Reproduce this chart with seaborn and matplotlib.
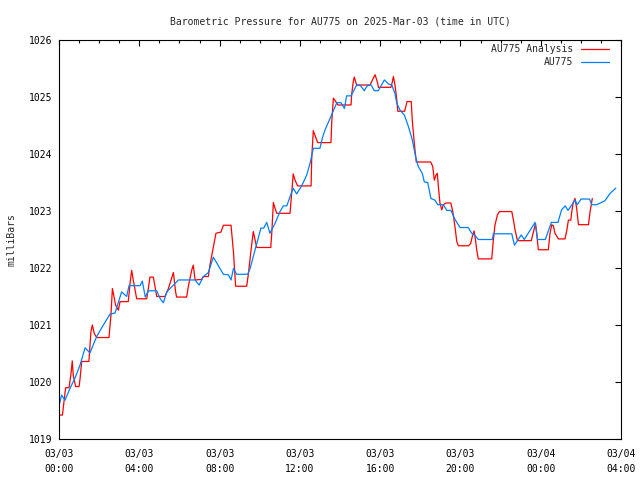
import pandas as pd
import matplotlib
matplotlib.use("Agg")
import matplotlib.pyplot as plt
import matplotlib.dates as mdates
import seaborn as sns

# hours after 2025-03-03 00:00 UTC and pressure in milliBars
obs_hours = [0.00, 0.13, 0.30, 0.55, 0.80, 1.05, 1.30, 1.54, 1.88, 2.21,
             2.54, 2.79, 3.12, 3.37, 3.49, 4.04, 4.15, 4.30, 4.45, 4.87,
             5.03, 5.20, 5.37, 5.70, 5.95, 6.78, 6.98, 7.19, 7.44, 7.69,
             7.94, 8.19, 8.44, 8.57, 8.69, 8.85, 9.40, 9.52, 9.77, 10.06,
             10.20, 10.35, 10.51, 10.76, 11.01, 11.18, 11.35, 11.51, 11.67, 11.84,
             12.09, 12.34, 12.51, 12.67, 13.00, 13.12, 13.25, 13.50, 13.84, 14.05,
             14.22, 14.33, 14.55, 14.83, 15.00, 15.21, 15.38, 15.55, 15.71, 15.91,
             16.21, 16.41, 16.58, 16.74, 16.83, 16.99, 17.21, 17.41, 17.60, 17.77,
             17.90, 18.10, 18.20, 18.37, 18.53, 18.73, 18.87, 19.15, 19.32, 19.53,
             19.70, 19.98, 20.39, 20.56, 20.73, 20.89, 21.59, 21.64, 22.56, 22.69,
             23.03, 23.18, 23.72, 23.84, 24.23, 24.53, 24.86, 25.04, 25.22, 25.36,
             25.71, 25.82, 26.01, 26.43, 26.55, 26.79, 27.20, 27.46, 27.74]
obs_mbar = [1019.58, 1019.77, 1019.68, 1019.89, 1020.07, 1020.30, 1020.60, 1020.51, 1020.80, 1021.00,
            1021.19, 1021.21, 1021.58, 1021.50, 1021.69, 1021.69, 1021.77, 1021.49, 1021.60, 1021.60,
            1021.47, 1021.39, 1021.58, 1021.70, 1021.79, 1021.79, 1021.70, 1021.85, 1021.92, 1022.19,
            1022.04, 1021.89, 1021.88, 1021.79, 1021.99, 1021.89, 1021.89, 1021.99, 1022.32, 1022.70,
            1022.70, 1022.80, 1022.61, 1022.78, 1022.99, 1023.09, 1023.09, 1023.25, 1023.40, 1023.30,
            1023.44, 1023.63, 1023.84, 1024.10, 1024.10, 1024.28, 1024.42, 1024.62, 1024.90, 1024.90,
            1024.80, 1025.02, 1025.02, 1025.21, 1025.21, 1025.11, 1025.21, 1025.21, 1025.11, 1025.11,
            1025.30, 1025.23, 1025.21, 1025.06, 1024.89, 1024.77, 1024.68, 1024.48, 1024.25, 1023.95,
            1023.78, 1023.66, 1023.51, 1023.50, 1023.22, 1023.19, 1023.11, 1023.11, 1023.01, 1023.01,
            1022.87, 1022.71, 1022.71, 1022.61, 1022.57, 1022.50, 1022.50, 1022.60, 1022.60, 1022.40,
            1022.58, 1022.50, 1022.80, 1022.50, 1022.50, 1022.80, 1022.80, 1023.02, 1023.09, 1023.01,
            1023.19, 1023.11, 1023.21, 1023.21, 1023.11, 1023.11, 1023.18, 1023.31, 1023.40]

ana_hours = [0.00, 0.17, 0.22, 0.33, 0.50, 0.60, 0.66, 0.71, 0.83, 1.00,
             1.05, 1.13, 1.49, 1.59, 1.66, 1.76, 1.88, 2.49, 2.59, 2.66,
             2.72, 2.82, 2.96, 3.04, 3.45, 3.54, 3.62, 3.70, 3.87, 4.37,
             4.45, 4.53, 4.70, 4.87, 5.28, 5.45, 5.70, 5.81, 5.86, 6.36,
             6.44, 6.61, 6.69, 6.78, 7.11, 7.19, 7.44, 7.52, 7.69, 7.82,
             8.07, 8.19, 8.57, 8.69, 8.80, 9.35, 9.43, 9.57, 9.68, 9.77,
             9.85, 10.55, 10.60, 10.68, 10.76, 10.85, 11.51, 11.59, 11.67, 11.76,
             11.89, 12.56, 12.59, 12.67, 12.76, 12.89, 13.55, 13.59, 13.67, 13.79,
             13.89, 14.55, 14.58, 14.66, 14.71, 14.83, 15.50, 15.66, 15.75, 15.88,
             15.91, 16.54, 16.61, 16.66, 16.74, 16.83, 16.88, 17.22, 17.34, 17.55,
             17.60, 17.70, 17.80, 18.52, 18.62, 18.70, 18.78, 18.85, 18.90, 18.98,
             19.07, 19.15, 19.28, 19.52, 19.62, 19.73, 19.82, 19.90, 20.40, 20.51,
             20.61, 20.68, 20.74, 20.81, 20.89, 21.56, 21.64, 21.72, 21.84, 21.94,
             22.56, 22.64, 22.72, 22.84, 23.53, 23.60, 23.68, 23.74, 23.80, 23.88,
             24.38, 24.46, 24.55, 24.63, 24.71, 24.88, 25.21, 25.30, 25.38, 25.50,
             25.54, 25.62, 25.71, 25.79, 25.88, 26.38, 26.46, 26.57]
ana_mbar = [1019.42, 1019.42, 1019.57, 1019.90, 1019.90, 1020.15, 1020.37, 1020.12, 1019.92, 1019.92,
            1020.06, 1020.36, 1020.36, 1020.88, 1021.00, 1020.85, 1020.78, 1020.78, 1021.18, 1021.64,
            1021.53, 1021.35, 1021.26, 1021.41, 1021.41, 1021.73, 1021.96, 1021.79, 1021.46, 1021.46,
            1021.64, 1021.84, 1021.84, 1021.50, 1021.50, 1021.64, 1021.92, 1021.58, 1021.49, 1021.49,
            1021.67, 1021.96, 1022.05, 1021.79, 1021.80, 1021.85, 1021.85, 1022.05, 1022.37, 1022.61,
            1022.63, 1022.75, 1022.75, 1022.29, 1021.68, 1021.68, 1021.88, 1022.32, 1022.64, 1022.49,
            1022.36, 1022.36, 1022.61, 1023.15, 1023.05, 1022.96, 1022.96, 1023.31, 1023.65, 1023.54,
            1023.44, 1023.44, 1023.92, 1024.41, 1024.32, 1024.20, 1024.20, 1024.57, 1024.98, 1024.92,
            1024.86, 1024.86, 1025.04, 1025.27, 1025.35, 1025.21, 1025.21, 1025.33, 1025.39, 1025.24,
            1025.17, 1025.17, 1025.27, 1025.36, 1025.21, 1024.95, 1024.75, 1024.75, 1024.92, 1024.92,
            1024.60, 1024.19, 1023.86, 1023.86, 1023.78, 1023.54, 1023.63, 1023.66, 1023.43, 1023.14,
            1023.02, 1023.11, 1023.14, 1023.14, 1022.99, 1022.72, 1022.46, 1022.39, 1022.39, 1022.43,
            1022.58, 1022.65, 1022.52, 1022.32, 1022.16, 1022.16, 1022.49, 1022.75, 1022.93, 1022.99,
            1022.99, 1022.84, 1022.67, 1022.48, 1022.48, 1022.58, 1022.70, 1022.78, 1022.62, 1022.32,
            1022.32, 1022.60, 1022.76, 1022.74, 1022.61, 1022.51, 1022.51, 1022.66, 1022.84, 1022.84,
            1022.97, 1023.15, 1023.22, 1023.05, 1022.76, 1022.76, 1022.99, 1023.22]

start = pd.Timestamp("2025-03-03 00:00")
ana = pd.DataFrame({"time": start + pd.to_timedelta(ana_hours, unit="h"),
                    "mbar": ana_mbar, "series": "AU775 Analysis"})
obs = pd.DataFrame({"time": start + pd.to_timedelta(obs_hours, unit="h"),
                    "mbar": obs_mbar, "series": "AU775"})
data = pd.concat([ana, obs], ignore_index=True)

sns.set_style("white")
plt.rcParams["font.family"] = ["DejaVu Sans Mono"]
plt.rcParams["font.size"] = 7

fig = plt.figure(figsize=(6.4, 4.8), dpi=100)
ax = fig.add_axes([59 / 640, 41 / 480, 562 / 640, 399 / 480])

sns.lineplot(data=data, x="time", y="mbar", hue="series",
             hue_order=["AU775 Analysis", "AU775"],
             palette={"AU775 Analysis": "#ff0000", "AU775": "#0080ff"},
             estimator=None, sort=False, linewidth=0.9, ax=ax)

ax.set_xlim(start, start + pd.Timedelta(hours=28))
ax.set_ylim(1019, 1026)
ax.xaxis.set_major_locator(mdates.HourLocator(byhour=[0, 4, 8, 12, 16, 20]))
ax.xaxis.set_minor_locator(mdates.HourLocator())
ax.xaxis.set_major_formatter(mdates.DateFormatter("%m/%d\n%H:%M"))
ax.yaxis.set_major_locator(plt.MultipleLocator(1))

ax.tick_params(which="both", direction="in", top=True, right=True,
               colors="black", labelsize=7, width=0.8)
ax.tick_params(which="major", length=4.5)
ax.tick_params(axis="y", which="major", pad=5)
ax.tick_params(axis="x", which="major", pad=7.5)
ax.tick_params(which="minor", length=2.5)
for s in ax.spines.values():
    s.set_color("black")
    s.set_linewidth(0.8)

ax.set_xlabel("")
ax.set_ylabel("milliBars", labelpad=9)
ax.set_title("Barometric Pressure for AU775 on 2025-Mar-03 (time in UTC)", pad=11, fontsize=7)

handles, labels = ax.get_legend_handles_labels()
ax.legend(handles, labels, loc="upper right", bbox_to_anchor=(0.9786, 0.99),
          frameon=False, markerfirst=False, borderaxespad=0, borderpad=0,
          handlelength=2.9, handletextpad=0.8, labelspacing=0.35, fontsize=7)

fig.canvas.draw()
for lbl in ax.get_xticklabels():
    lbl.set_linespacing(1.6)

fig.savefig("out.png", dpi=100)
